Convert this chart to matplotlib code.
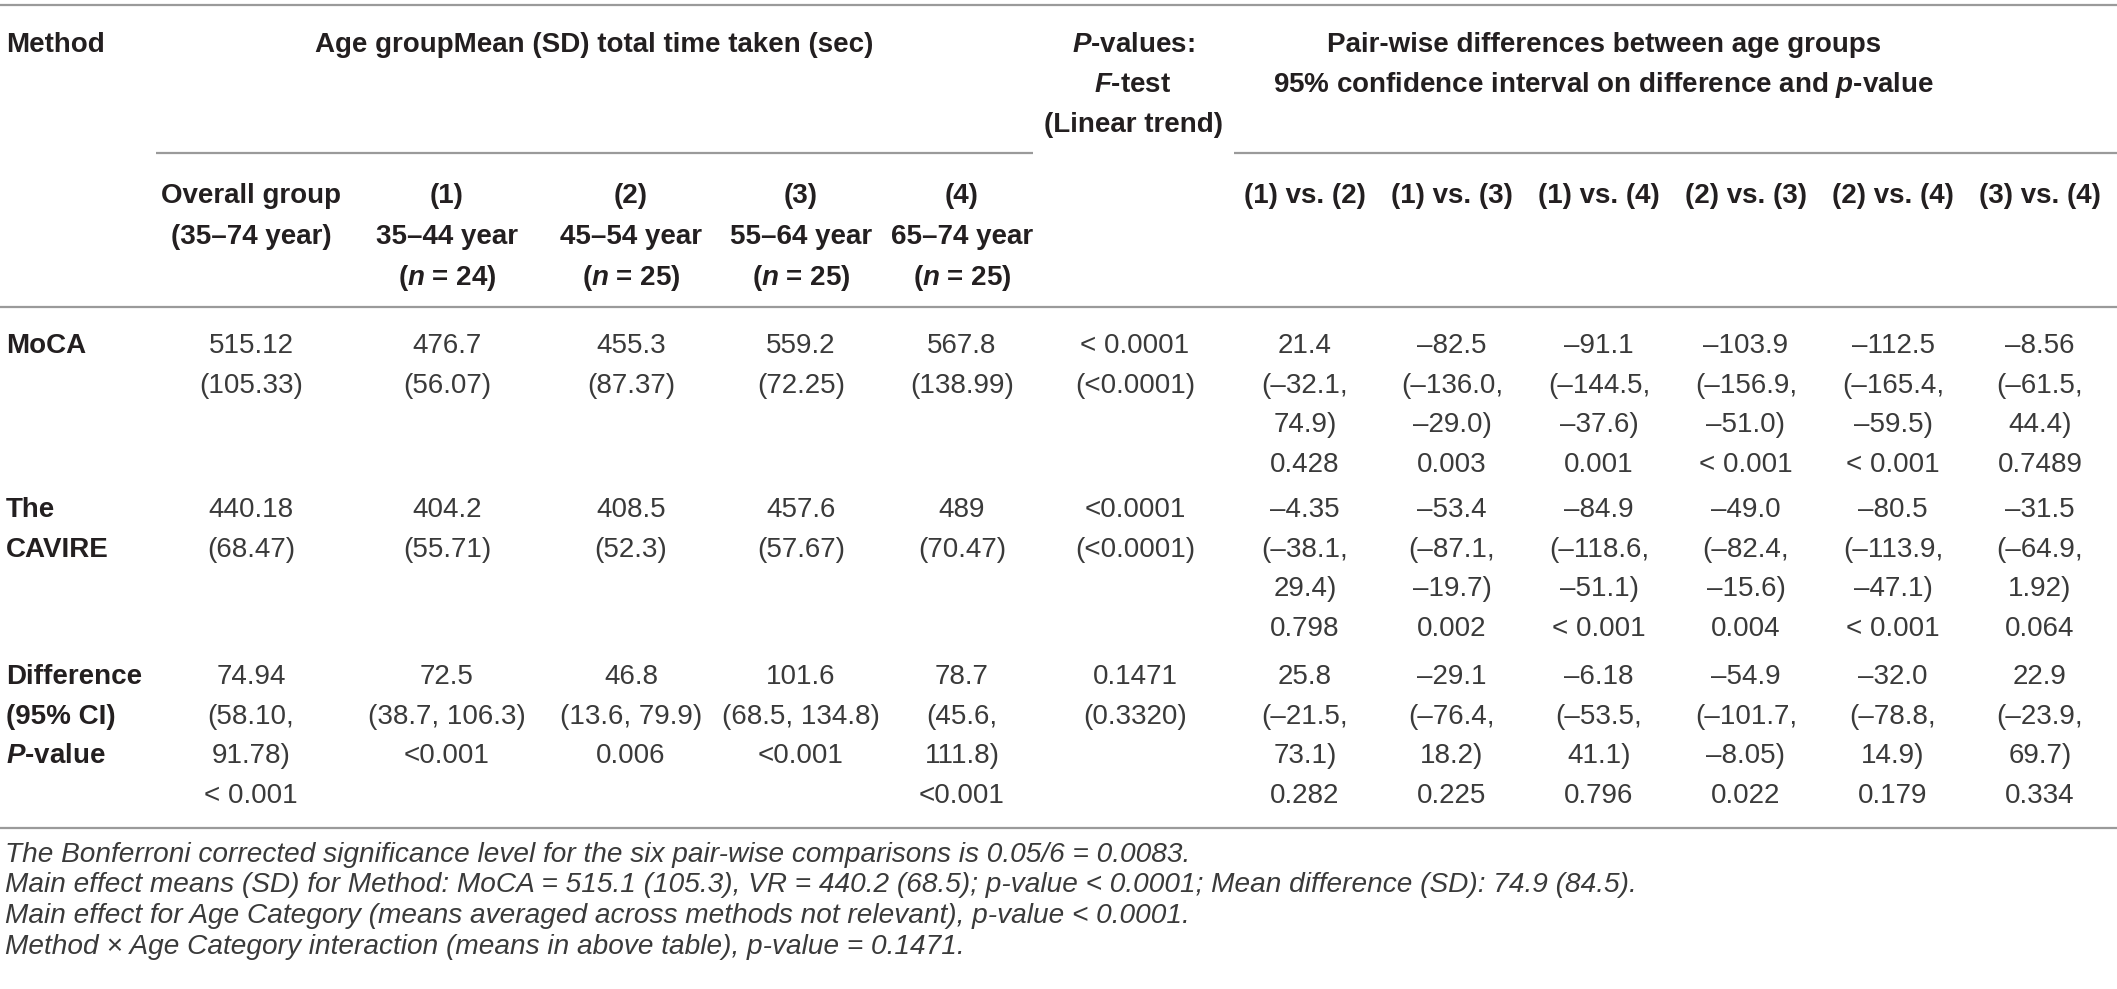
import matplotlib
matplotlib.use("Agg")
import matplotlib.pyplot as plt

plt.rcParams['font.family'] = ['Liberation Sans', 'DejaVu Sans']
plt.rcParams['mathtext.fontset'] = 'custom'
plt.rcParams['mathtext.it'] = 'Liberation Sans:italic:bold'

# table content
methods = ["MoCA", "The\nCAVIRE", "Difference\n(95% CI)\n$P$-value"]
overall = ["515.12\n(105.33)", "440.18\n(68.47)", "74.94\n(58.10,\n91.78)\n< 0.001"]
age_1 = ["476.7\n(56.07)", "404.2\n(55.71)", "72.5\n(38.7, 106.3)\n<0.001"]
age_2 = ["455.3\n(87.37)", "408.5\n(52.3)", "46.8\n(13.6, 79.9)\n0.006"]
age_3 = ["559.2\n(72.25)", "457.6\n(57.67)", "101.6\n(68.5, 134.8)\n<0.001"]
age_4 = ["567.8\n(138.99)", "489\n(70.47)", "78.7\n(45.6,\n111.8)\n<0.001"]
p_trend = ["< 0.0001\n(<0.0001)", "<0.0001\n(<0.0001)", "0.1471\n(0.3320)"]
pair_12 = ["21.4\n(–32.1,\n74.9)\n0.428", "–4.35\n(–38.1,\n29.4)\n0.798", "25.8\n(–21.5,\n73.1)\n0.282"]
pair_13 = ["–82.5\n(–136.0,\n–29.0)\n0.003", "–53.4\n(–87.1,\n–19.7)\n0.002", "–29.1\n(–76.4,\n18.2)\n0.225"]
pair_14 = ["–91.1\n(–144.5,\n–37.6)\n0.001", "–84.9\n(–118.6,\n–51.1)\n< 0.001", "–6.18\n(–53.5,\n41.1)\n0.796"]
pair_23 = ["–103.9\n(–156.9,\n–51.0)\n< 0.001", "–49.0\n(–82.4,\n–15.6)\n0.004", "–54.9\n(–101.7,\n–8.05)\n0.022"]
pair_24 = ["–112.5\n(–165.4,\n–59.5)\n< 0.001", "–80.5\n(–113.9,\n–47.1)\n< 0.001", "–32.0\n(–78.8,\n14.9)\n0.179"]
pair_34 = ["–8.56\n(–61.5,\n44.4)\n0.7489", "–31.5\n(–64.9,\n1.92)\n0.064", "22.9\n(–23.9,\n69.7)\n0.334"]

sub_headers = ["Overall group\n(35–74 year)", "(1)\n35–44 year\n($n$ = 24)", "(2)\n45–54 year\n($n$ = 25)",
               "(3)\n55–64 year\n($n$ = 25)", "(4)\n65–74 year\n($n$ = 25)"]
pair_headers = ["(1) vs. (2)", "(1) vs. (3)", "(1) vs. (4)", "(2) vs. (3)", "(2) vs. (4)", "(3) vs. (4)"]

footnotes = [
    "The Bonferroni corrected significance level for the six pair-wise comparisons is 0.05/6 = 0.0083.",
    "Main effect means (SD) for Method: MoCA = 515.1 (105.3), VR = 440.2 (68.5); p-value < 0.0001; Mean difference (SD): 74.9 (84.5).",
    "Main effect for Age Category (means averaged across methods not relevant), p-value < 0.0001.",
    "Method × Age Category interaction (means in above table), p-value = 0.1471.",
]

W, H = 2117, 989
fig = plt.figure(figsize=(W / 100, H / 100), dpi=100)
ax = fig.add_axes([0, 0, 1, 1])
ax.set_xlim(0, W)
ax.set_ylim(H, 0)
ax.axis('off')

HEAD = '#231f20'
BODY = '#3a3a3a'
LINE = '#9a9a9a'
FS = 20


def put(x, y, s, dy=39.6, ha='center', bold=False, color=BODY, size=FS, style='normal'):
    for i, line in enumerate(s.split('\n')):
        ax.text(x, y + i * dy, line, ha=ha, va='baseline', fontsize=size,
                fontweight='bold' if bold else 'normal', color=color, fontstyle=style)


# rules
ax.hlines(5, 0, W, color=LINE, lw=1.6)
ax.hlines(153, 156, 1033, color=LINE, lw=1.6)
ax.hlines(153, 1234, W, color=LINE, lw=1.6)
ax.hlines(307, 0, W, color=LINE, lw=1.6)
ax.hlines(828, 0, W, color=LINE, lw=1.6)

# header
put(6, 52, "Method", ha='left', bold=True, color=HEAD)
put(594, 52, "Age groupMean (SD) total time taken (sec)", bold=True, color=HEAD)
put(1133, 52, "$P$-values:\n$F$-test\n(Linear trend)", dy=40, bold=True, color=HEAD)
put(1604, 52, "Pair-wise differences between age groups\n95% confidence interval on difference and $p$-value",
    dy=40, bold=True, color=HEAD)

age_x = [251, 447, 631, 801, 962]
for x, s in zip(age_x, sub_headers):
    put(x, 203, s, dy=41, bold=True, color=HEAD)
pair_x = [1305, 1452, 1599, 1746, 1893, 2040]
for x, s in zip(pair_x, pair_headers):
    put(x, 203, s, bold=True, color=HEAD)

# body
row_y = [353, 517, 684]
columns = [overall, age_1, age_2, age_3, age_4]
for r, y in enumerate(row_y):
    put(6, y, methods[r], ha='left', bold=True, color=HEAD)
    for x, col in zip(age_x, columns):
        put(x, y, col[r])
    put(1135, y, p_trend[r])
    for x, col in zip(pair_x, [pair_12, pair_13, pair_14, pair_23, pair_24, pair_34]):
        put(x, y, col[r])

# footnotes
for i, s in enumerate(footnotes):
    ax.text(5, 862 + i * 30.5, s, ha='left', va='baseline', fontsize=20.2,
            fontstyle='italic', color=BODY)

fig.savefig('out.png', dpi=100)
